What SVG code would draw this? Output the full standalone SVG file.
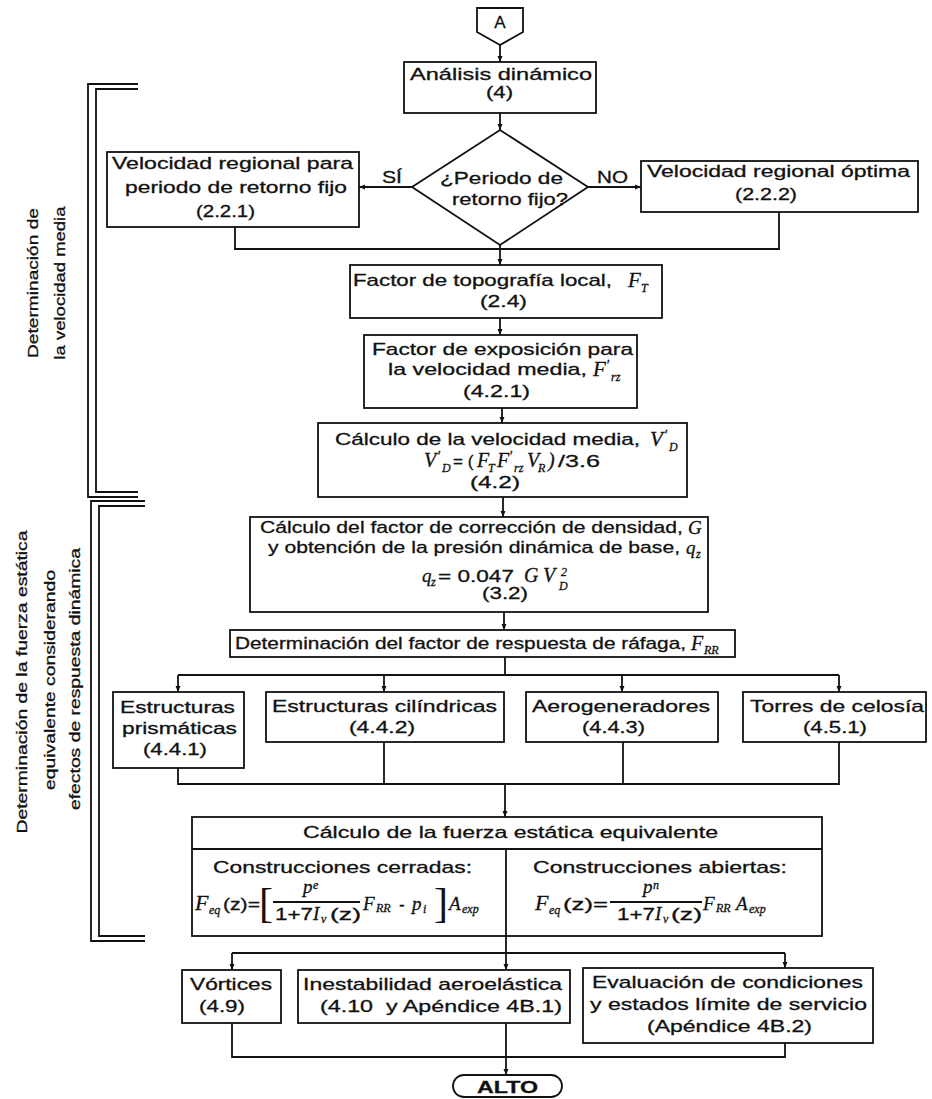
<svg xmlns="http://www.w3.org/2000/svg" width="932" height="1099" viewBox="0 0 932 1099">
<style>
.t{font-family:"Liberation Sans",Arial,sans-serif;font-size:17px;fill:#111;stroke:#111;stroke-width:0.3}
.c{text-anchor:middle}
.m{font-family:"Liberation Serif","Times New Roman",serif;font-style:italic;font-size:19px;fill:#111;stroke:#111;stroke-width:0.3}
.s{font-size:12px}
.b{font-weight:bold}
.box{fill:#fff;stroke:#111;stroke-width:1.8}
.ln{fill:none;stroke:#111;stroke-width:1.8}
.r{font-size:15px}
.sub{font-size:12px}
.pr{font-size:14px}
.sn{font-family:"Liberation Sans",Arial,sans-serif;font-style:normal;font-size:17px}
</style>
<defs>
<marker id="ah" markerWidth="7" markerHeight="7" refX="6" refY="3" orient="auto" markerUnits="userSpaceOnUse"><path d="M0,0.5 L6,3 L0,5.5 z" fill="#111"/></marker>
</defs>
<rect width="932" height="1099" fill="#fff"/>

<g id="brackets" class="ln">
<path d="M138,84 H88 V497 H138"/>
<path d="M138,89 H96 V492 H138"/>
<path d="M145,501 H91 V941 H145"/>
<path d="M145,506 H99 V936 H145"/>
</g>
<g id="bracket-labels">
<text class="t r c" transform="translate(38,283) rotate(-90)" textLength="150" lengthAdjust="spacingAndGlyphs">Determinación de</text>
<text class="t r c" transform="translate(65,283) rotate(-90)" textLength="153" lengthAdjust="spacingAndGlyphs">la velocidad media</text>
<text class="t r c" transform="translate(27,682) rotate(-90)" textLength="303" lengthAdjust="spacingAndGlyphs">Determinación de la fuerza estática</text>
<text class="t r c" transform="translate(55,680) rotate(-90)" textLength="220" lengthAdjust="spacingAndGlyphs">equivalente considerando</text>
<text class="t r c" transform="translate(80,679) rotate(-90)" textLength="262" lengthAdjust="spacingAndGlyphs">efectos de respuesta dinámica</text>
</g>

<g id="connectors" class="ln">
<path d="M500,45 V62" marker-end="url(#ah)"/>
<path d="M500,113 V130" marker-end="url(#ah)"/>
<path d="M412,187 H359" marker-end="url(#ah)"/>
<path d="M588,187 H641" marker-end="url(#ah)"/>
<path d="M235,227 V249 H779 V212"/>
<path d="M500,245 V265" marker-end="url(#ah)"/>
<path d="M500,318 V335" marker-end="url(#ah)"/>
<path d="M502,408 V423" marker-end="url(#ah)"/>
<path d="M503,497 V517" marker-end="url(#ah)"/>
<path d="M504,612 V630" marker-end="url(#ah)"/>
<path d="M505,657 V675"/>
<path d="M178,675 H839"/>
<path d="M178,675 V692" marker-end="url(#ah)"/>
<path d="M384,675 V692" marker-end="url(#ah)"/>
<path d="M622,675 V692" marker-end="url(#ah)"/>
<path d="M839,675 V692" marker-end="url(#ah)"/>
<path d="M178,768 V784 H839 V742"/>
<path d="M384,742 V784"/>
<path d="M623,742 V784"/>
<path d="M505,784 V817" marker-end="url(#ah)"/>
<path d="M506,936 V953"/>
<path d="M232,953 H785"/>
<path d="M232,953 V970" marker-end="url(#ah)"/>
<path d="M506,953 V970" marker-end="url(#ah)"/>
<path d="M785,953 V968" marker-end="url(#ah)"/>
<path d="M232,1023 V1057 H785 V1043"/>
<path d="M506,1023 V1075" marker-end="url(#ah)"/>
</g>
<g id="edge-labels">
<text class="t" x="382" y="183" textLength="20" lengthAdjust="spacingAndGlyphs">SÍ</text>
<text class="t" x="597" y="183" textLength="31" lengthAdjust="spacingAndGlyphs">NO</text>
</g>

<g id="n-A">
<path class="box" d="M477,8 H523 V32 L500,45 L477,32 Z"/>
<text class="t c" x="500" y="28">A</text>
</g>

<g id="n-analisis">
<rect class="box" x="404" y="62" width="192" height="51"/>
<text class="t" x="410" y="80" textLength="182" lengthAdjust="spacingAndGlyphs">Análisis dinámico</text>
<text class="t" x="486" y="98" textLength="27" lengthAdjust="spacingAndGlyphs">(4)</text>
</g>

<g id="n-periodo">
<path class="box" d="M500,130 L588,187 L500,245 L412,187 Z"/>
<text class="t" x="440" y="184" textLength="123" lengthAdjust="spacingAndGlyphs">¿Periodo de</text>
<text class="t" x="452" y="205" textLength="116" lengthAdjust="spacingAndGlyphs">retorno fijo?</text>
</g>

<g id="n-vfijo">
<rect class="box" x="107" y="152" width="252" height="75"/>
<text class="t" x="112" y="169" textLength="241" lengthAdjust="spacingAndGlyphs">Velocidad regional para</text>
<text class="t" x="125" y="193" textLength="222" lengthAdjust="spacingAndGlyphs">periodo de retorno fijo</text>
<text class="t" x="196" y="217" textLength="59" lengthAdjust="spacingAndGlyphs">(2.2.1)</text>
</g>

<g id="n-voptima">
<rect class="box" x="641" y="161" width="277" height="51"/>
<text class="t" x="647" y="177" textLength="263" lengthAdjust="spacingAndGlyphs">Velocidad regional óptima</text>
<text class="t" x="735" y="200" textLength="62" lengthAdjust="spacingAndGlyphs">(2.2.2)</text>
</g>

<g id="n-topografia">
<rect class="box" x="350" y="265" width="312" height="53"/>
<text class="t" x="353" y="286" textLength="259" lengthAdjust="spacingAndGlyphs">Factor de topografía local,</text>
<text class="m" style="font-size:21px"><tspan x="628" y="287">F</tspan><tspan class="sub" x="641" y="292">T</tspan></text>
<text class="t" x="480" y="307" textLength="47" lengthAdjust="spacingAndGlyphs">(2.4)</text>
</g>

<g id="n-exposicion">
<rect class="box" x="364" y="335" width="273" height="73"/>
<text class="t" x="372" y="355" textLength="261" lengthAdjust="spacingAndGlyphs">Factor de exposición para</text>
<text class="t" x="388" y="375" textLength="199" lengthAdjust="spacingAndGlyphs">la velocidad media,</text>
<text class="m" style="font-size:21px"><tspan x="593" y="376">F</tspan><tspan class="pr" x="606" y="370">′</tspan><tspan class="sub" x="611" y="381">rz</tspan></text>
<text class="t" x="463" y="397" textLength="67" lengthAdjust="spacingAndGlyphs">(4.2.1)</text>
</g>

<g id="n-vmedia">
<rect class="box" x="318" y="423" width="369" height="74"/>
<text class="t" x="335" y="445" textLength="305" lengthAdjust="spacingAndGlyphs">Cálculo de la velocidad media,</text>
<text class="m" style="font-size:21px"><tspan x="650" y="446">V</tspan><tspan class="pr" x="664" y="440">′</tspan><tspan class="sub" x="669" y="451">D</tspan></text>
<text class="m" style="font-size:20px"><tspan x="424" y="467">V</tspan><tspan class="pr" x="437" y="461">′</tspan><tspan class="sub" x="442" y="472">D</tspan><tspan class="sn" x="453" y="467">= (</tspan><tspan x="477" y="467">F</tspan><tspan class="sub" x="488" y="472">T</tspan><tspan x="497" y="467">F</tspan><tspan class="pr" x="509" y="461">′</tspan><tspan class="sub" x="514" y="472">rz</tspan><tspan x="527" y="467">V</tspan><tspan class="sub" x="538" y="472">R</tspan><tspan x="548" y="467">)</tspan></text>
<text class="t" x="558" y="467" textLength="42" lengthAdjust="spacingAndGlyphs">/3.6</text>
<text class="t" x="470" y="488" textLength="50" lengthAdjust="spacingAndGlyphs">(4.2)</text>
</g>

<g id="n-densidad">
<rect class="box" x="250" y="517" width="458" height="95"/>
<text class="t" x="260" y="533" textLength="423" lengthAdjust="spacingAndGlyphs">Cálculo del factor de corrección de densidad,</text>
<text class="m" x="688" y="534">G</text>
<text class="t" x="268" y="553" textLength="412" lengthAdjust="spacingAndGlyphs">y obtención de la presión dinámica de base,</text>
<text class="m"><tspan x="686" y="554">q</tspan><tspan class="sub" x="696" y="558">z</tspan></text>
<text class="m"><tspan x="422" y="582">q</tspan><tspan class="sub" x="431" y="586">z</tspan></text>
<text class="t" x="438" y="582" textLength="76" lengthAdjust="spacingAndGlyphs">= 0.047</text>
<text class="m" style="font-size:20px"><tspan x="524" y="582">G</tspan><tspan x="543" y="582">V</tspan><tspan class="sub" x="561" y="576">2</tspan><tspan class="sub" x="559" y="590">D</tspan></text>
<text class="t" x="482" y="599" textLength="46" lengthAdjust="spacingAndGlyphs">(3.2)</text>
</g>

<g id="n-frr">
<rect class="box" x="230" y="630" width="505" height="27"/>
<text class="t" x="235" y="649" textLength="451" lengthAdjust="spacingAndGlyphs">Determinación del factor de respuesta de ráfaga,</text>
<text class="m" style="font-size:20px"><tspan x="691" y="650">F</tspan><tspan class="sub" x="704" y="654">RR</tspan></text>
</g>

<g id="n-prismaticas">
<rect class="box" x="113" y="692" width="131" height="76"/>
<text class="t" x="120" y="713" textLength="115" lengthAdjust="spacingAndGlyphs">Estructuras</text>
<text class="t" x="122" y="734" textLength="115" lengthAdjust="spacingAndGlyphs">prismáticas</text>
<text class="t" x="143" y="755" textLength="64" lengthAdjust="spacingAndGlyphs">(4.4.1)</text>
</g>

<g id="n-cilindricas">
<rect class="box" x="266" y="692" width="238" height="50"/>
<text class="t" x="272" y="712" textLength="225" lengthAdjust="spacingAndGlyphs">Estructuras cilíndricas</text>
<text class="t" x="349" y="733" textLength="66" lengthAdjust="spacingAndGlyphs">(4.4.2)</text>
</g>

<g id="n-aerogeneradores">
<rect class="box" x="526" y="692" width="192" height="50"/>
<text class="t" x="532" y="712" textLength="178" lengthAdjust="spacingAndGlyphs">Aerogeneradores</text>
<text class="t" x="582" y="733" textLength="63" lengthAdjust="spacingAndGlyphs">(4.4.3)</text>
</g>

<g id="n-celosia">
<rect class="box" x="743" y="692" width="183" height="50"/>
<text class="t" x="750" y="712" textLength="174" lengthAdjust="spacingAndGlyphs">Torres de celosía</text>
<text class="t" x="803" y="733" textLength="64" lengthAdjust="spacingAndGlyphs">(4.5.1)</text>
</g>

<g id="n-fuerza">
<rect class="box" x="192" y="817" width="630" height="119"/>
<path class="ln" d="M192,849 H822 M506,849 V936"/>
<text class="t" x="303" y="838" textLength="415" lengthAdjust="spacingAndGlyphs">Cálculo de la fuerza estática equivalente</text>
<text class="t" x="213" y="873" textLength="259" lengthAdjust="spacingAndGlyphs">Construcciones cerradas:</text>
<text class="t" x="533" y="873" textLength="254" lengthAdjust="spacingAndGlyphs">Construcciones abiertas:</text>
<!-- closed -->
<text class="m" style="font-size:22px"><tspan x="195" y="910">F</tspan><tspan class="sub" x="209" y="914">eq</tspan></text>
<text class="t" x="223" y="910" textLength="37" lengthAdjust="spacingAndGlyphs">(z)=</text>
<text x="259" y="917" style="font-family:'Liberation Serif',serif;font-size:42px;fill:#111">[</text>
<text class="m"><tspan x="303" y="893">p</tspan><tspan class="sub" x="313" y="889">e</tspan></text>
<path class="ln" d="M273,902 H360" stroke-width="1.4"/>
<text class="t" x="275" y="920" textLength="38" lengthAdjust="spacingAndGlyphs">1+7</text>
<text class="m"><tspan x="313" y="920">I</tspan><tspan class="sub" x="321" y="923">v</tspan></text>
<text class="t" x="330" y="920" textLength="31" lengthAdjust="spacingAndGlyphs">(z)</text>
<text class="m"><tspan x="363" y="910">F</tspan><tspan class="sub" x="376" y="912">RR</tspan></text>
<text class="t" x="399" y="910">-</text>
<text class="m"><tspan x="412" y="910">p</tspan><tspan class="sub" x="423" y="913">i</tspan></text>
<text x="434" y="917" style="font-family:'Liberation Serif',serif;font-size:42px;fill:#111">]</text>
<text class="m"><tspan x="449" y="910">A</tspan><tspan class="sub" x="462" y="913">exp</tspan></text>
<!-- open -->
<text class="m" style="font-size:22px"><tspan x="535" y="910">F</tspan><tspan class="sub" x="549" y="914">eq</tspan></text>
<text class="t" x="563" y="910" textLength="45" lengthAdjust="spacingAndGlyphs">(z)=</text>
<text class="m"><tspan x="643" y="893">p</tspan><tspan class="sub" x="653" y="889">n</tspan></text>
<path class="ln" d="M610,902 H702" stroke-width="1.4"/>
<text class="t" x="617" y="920" textLength="38" lengthAdjust="spacingAndGlyphs">1+7</text>
<text class="m"><tspan x="655" y="920">I</tspan><tspan class="sub" x="663" y="923">v</tspan></text>
<text class="t" x="671" y="920" textLength="31" lengthAdjust="spacingAndGlyphs">(z)</text>
<text class="m"><tspan x="703" y="910">F</tspan><tspan class="sub" x="716" y="912">RR</tspan></text>
<text class="m"><tspan x="736" y="910">A</tspan><tspan class="sub" x="749" y="913">exp</tspan></text>
</g>

<g id="n-vortices">
<rect class="box" x="182" y="970" width="99" height="53"/>
<text class="t" x="190" y="990" textLength="82" lengthAdjust="spacingAndGlyphs">Vórtices</text>
<text class="t" x="199" y="1012" textLength="46" lengthAdjust="spacingAndGlyphs">(4.9)</text>
</g>

<g id="n-inestabilidad">
<rect class="box" x="298" y="970" width="272" height="53"/>
<text class="t" x="303" y="990" textLength="259" lengthAdjust="spacingAndGlyphs">Inestabilidad aeroelástica</text>
<text class="t" x="320" y="1012" textLength="242" lengthAdjust="spacingAndGlyphs" xml:space="preserve">(4.10  y Apéndice 4B.1)</text>
</g>

<g id="n-evaluacion">
<rect class="box" x="583" y="968" width="290" height="75"/>
<text class="t" x="592" y="988" textLength="271" lengthAdjust="spacingAndGlyphs">Evaluación de condiciones</text>
<text class="t" x="590" y="1010" textLength="277" lengthAdjust="spacingAndGlyphs">y estados límite de servicio</text>
<text class="t" x="647" y="1032" textLength="165" lengthAdjust="spacingAndGlyphs">(Apéndice 4B.2)</text>
</g>

<g id="n-alto">
<rect class="box" x="453" y="1075" width="109" height="22" rx="11"/>
<text class="t b" x="477" y="1093" textLength="61" lengthAdjust="spacingAndGlyphs">ALTO</text>
</g>
</svg>
